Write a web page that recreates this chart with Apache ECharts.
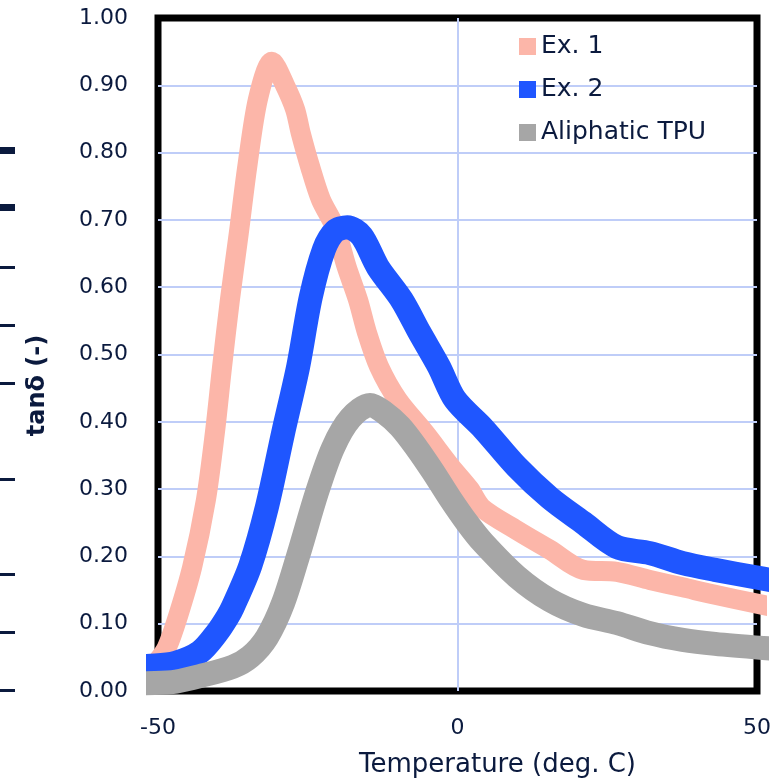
<!DOCTYPE html>
<html>
<head>
<meta charset="utf-8">
<title>tan delta vs temperature</title>
<script src="https://cdn.jsdelivr.net/npm/echarts@6/dist/echarts.min.js"></script>
<style>
  html, body { margin: 0; padding: 0; background: #fff; }
  #chart { width: 783px; height: 779px; }
</style>
</head>
<body>
<div id="chart"></div>
<script>
// 坐标轴刻度
const xTicks = [-50, 0, 50]
const yTicks = [0, 0.1, 0.2, 0.3, 0.4, 0.5, 0.6, 0.7, 0.8, 0.9, 1.0]

// Ex. 1
const ex1Temp = [-50, -48.5, -46.7, -44.3, -42, -40.5, -39.3, -38, -36.5, -35.1, -33.3, -31, -28.8, -27.1, -26.2, -24.6, -22.8, -20.5, -18.5, -16.6, -15.1, -13.1, -10, -5.5, -1.1, 2, 4.1, 9.9, 15.4, 21, 26.6, 32.1, 37.6, 43, 51]
const ex1Value = [0.045, 0.065, 0.11, 0.184, 0.284, 0.384, 0.482, 0.581, 0.681, 0.779, 0.88, 0.935, 0.9, 0.864, 0.83, 0.779, 0.73, 0.69, 0.63, 0.581, 0.532, 0.482, 0.433, 0.384, 0.333, 0.3, 0.272, 0.239, 0.21, 0.18, 0.177, 0.165, 0.154, 0.143, 0.128]

// Ex. 2
const ex2Temp = [-50.5, -47, -43, -40.2, -38.4, -37.5, -34.6, -31.8, -29.1, -26.6, -24.5, -22.3, -20.5, -18.4, -16, -13.3, -9.3, -6.3, -3.1, -0.4, 4.3, 9.9, 15.4, 21, 26.6, 32.1, 37.6, 43, 51]
const ex2Value = [0.038, 0.042, 0.058, 0.086, 0.11, 0.125, 0.186, 0.274, 0.384, 0.482, 0.585, 0.656, 0.683, 0.689, 0.676, 0.63, 0.581, 0.532, 0.482, 0.433, 0.39, 0.333, 0.287, 0.25, 0.214, 0.205, 0.19, 0.18, 0.167]

// Aliphatic TPU
const tpuTemp = [-50.5, -47, -43, -37.5, -34.6, -31.8, -29.1, -26.3, -23.5, -20.8, -17.9, -14.6, -12.4, -9.6, -6.8, -4.1, -1.3, 1.6, 4.3, 9.9, 15.4, 21, 26.6, 32.1, 37.6, 43, 51]
const tpuValue = [0.012, 0.014, 0.022, 0.036, 0.051, 0.08, 0.131, 0.21, 0.294, 0.361, 0.405, 0.425, 0.415, 0.393, 0.361, 0.326, 0.287, 0.25, 0.22, 0.17, 0.135, 0.113, 0.101, 0.086, 0.076, 0.07, 0.064]

const seriesNames = ['Ex. 1', 'Ex. 2', 'Aliphatic TPU']
const seriesColors = ['#FCB6A9', '#1F56FF', '#A6A6A6']
const seriesWidths = [20, 24, 24]

const textColor = '#0B1A3E'
const gridColor = '#BFCDF8'
const font = 'DejaVu Sans'

const zip = (xs, ys) => xs.map((x, i) => [x, ys[i]])
const seriesData = [zip(ex1Temp, ex1Value), zip(ex2Temp, ex2Value), zip(tpuTemp, tpuValue)]

// 左侧裁剪残留的刻度线
const leftMarks = [
  {y: 147, h: 7}, {y: 204, h: 7},
  {y: 266, h: 3}, {y: 324, h: 3}, {y: 382, h: 3}, {y: 478, h: 3},
  {y: 573, h: 3}, {y: 631, h: 3}, {y: 689, h: 3}
]

const chart = echarts.init(document.getElementById('chart'))
chart.setOption({
  animation: false,
  backgroundColor: '#fff',
  textStyle: {fontFamily: font, color: textColor},
  graphic: leftMarks.map(m => ({
    type: 'rect',
    shape: {x: 0, y: m.y, width: 15, height: m.h},
    style: {fill: textColor}
  })),
  legend: {
    orient: 'vertical',
    left: 514,
    top: 29,
    itemWidth: 17,
    itemHeight: 17,
    itemGap: 18,
    icon: 'rect',
    textStyle: {fontFamily: font, fontSize: 25, color: textColor},
    data: seriesNames
  },
  grid: {
    left: 158,
    right: 26,
    top: 18,
    bottom: 88,
    outerBoundsMode: 'none',
    containLabel: false,
    show: true,
    borderColor: '#000',
    borderWidth: 7
  },
  xAxis: {
    type: 'value',
    min: xTicks[0],
    max: xTicks[xTicks.length - 1],
    interval: 50,
    name: 'Temperature (deg. C)',
    nameLocation: 'middle',
    nameGap: 61,
    nameTextStyle: {fontFamily: font, fontSize: 26, color: textColor, padding: [0, 0, 0, 80]},
    axisLine: {show: false},
    axisTick: {show: false},
    axisLabel: {
      margin: 26,
      fontFamily: font,
      fontSize: 22,
      color: textColor
    },
    splitLine: {show: true, showMinLine: false, showMaxLine: false, lineStyle: {color: gridColor, width: 2}}
  },
  yAxis: {
    type: 'value',
    min: yTicks[0],
    max: yTicks[yTicks.length - 1],
    interval: 0.1,
    name: 'tanδ (-)',
    nameLocation: 'middle',
    nameGap: 108,
    nameRotate: 90,
    nameTextStyle: {fontFamily: font, fontSize: 24, fontWeight: 'bold', color: textColor, padding: [0, 62, 0, 0]},
    axisLine: {show: false},
    axisTick: {show: false},
    axisLabel: {
      margin: 30,
      fontFamily: font,
      fontSize: 22,
      color: textColor,
      formatter: v => v.toFixed(2)
    },
    splitLine: {show: true, showMinLine: false, showMaxLine: false, lineStyle: {color: gridColor, width: 2}}
  },
  series: seriesNames.map((name, i) => ({
    name,
    type: 'line',
    data: seriesData[i],
    showSymbol: false,
    smooth: 0.3,
    clip: false,
    color: seriesColors[i],
    lineStyle: {color: seriesColors[i], width: seriesWidths[i], cap: 'square', join: 'round'}
  }))
})
</script>
</body>
</html>
